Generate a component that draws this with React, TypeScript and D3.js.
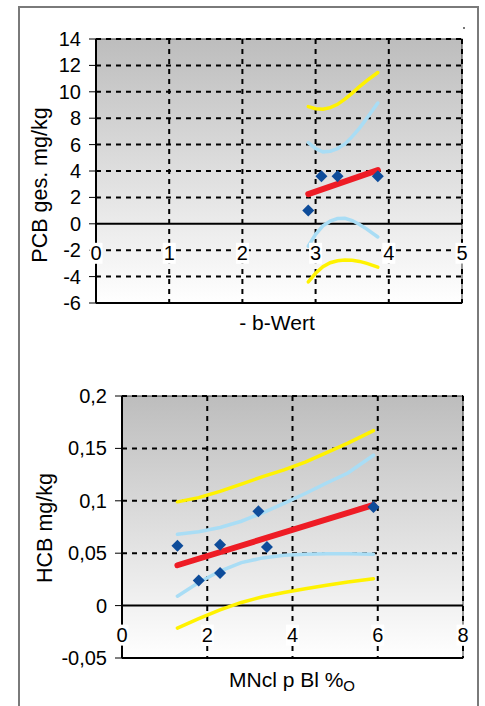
import React from "react";
import * as d3 from "d3";

// ---------- Top chart: PCB vs -b-Wert ----------
const pcbXTicks = [0, 1, 2, 3, 4, 5];
const pcbYTicks = [-6, -4, -2, 0, 2, 4, 6, 8, 10, 12, 14];
const pcbYTickLabels = ["-6", "-4", "-2", "0", "2", "4", "6", "8", "10", "12", "14"];
const pcbPointsX = [2.9, 3.08, 3.3, 3.85];
const pcbPointsY = [1.0, 3.6, 3.6, 3.6];
const pcbFitX = [2.9, 3.85];
const pcbFitY = [2.25, 4.07];
const pcbBandX = [2.9, 3.0, 3.1, 3.2, 3.3, 3.4, 3.5, 3.6, 3.7, 3.85];
const pcbConfUpper = [6.15, 5.7, 5.45, 5.5, 5.7, 6.05, 6.6, 7.25, 8.0, 9.15];
const pcbConfLower = [-1.7, -0.8, -0.15, 0.2, 0.4, 0.42, 0.25, -0.05, -0.4, -1.0];
const pcbPredUpper = [8.88, 8.72, 8.68, 8.8, 9.05, 9.45, 9.9, 10.4, 10.85, 11.46];
const pcbPredLower = [-4.4, -3.75, -3.25, -2.95, -2.8, -2.75, -2.77, -2.85, -3.0, -3.28];

// ---------- Bottom chart: HCB vs MNcl p Bl ----------
const hcbXTicks = [0, 2, 4, 6, 8];
const hcbYTicks = [-0.05, 0, 0.05, 0.1, 0.15, 0.2];
const hcbYTickLabels = ["-0,05", "0", "0,05", "0,1", "0,15", "0,2"];
const hcbPointsX = [1.3, 1.8, 2.3, 2.3, 3.2, 3.4, 5.9];
const hcbPointsY = [0.057, 0.024, 0.058, 0.031, 0.09, 0.056, 0.094];
const hcbFitX = [1.3, 5.9];
const hcbFitY = [0.0385, 0.096];
const hcbBandX = [1.3, 1.8, 2.3, 2.8, 3.3, 3.8, 4.3, 4.8, 5.3, 5.9];
const hcbConfUpper = [0.068, 0.0705, 0.0745, 0.0805, 0.0885, 0.0975, 0.107, 0.117, 0.1265, 0.1435];
const hcbConfLower = [0.009, 0.022, 0.033, 0.041, 0.0455, 0.048, 0.049, 0.0495, 0.0495, 0.049];
const hcbPredUpper = [0.099, 0.103, 0.109, 0.116, 0.123, 0.1295, 0.137, 0.146, 0.155, 0.167];
const hcbPredLower = [-0.0215, -0.0125, -0.004, 0.003, 0.0085, 0.0125, 0.016, 0.0195, 0.0225, 0.0257];

const FONT = "'Liberation Sans', Arial, sans-serif";
const RED = "#ee1c25";
const LBLUE = "#a9ddf5";
const YELLOW = "#fff200";
const DBLUE = "#0e4c9a";

type ChartProps = {
  id: string;
  left: number; right: number; top: number; bottom: number;
  xDomain: [number, number]; yDomain: [number, number];
  xTicks: number[]; yTicks: number[]; yTickLabels: string[];
  px: number[]; py: number[]; fx: number[]; fy: number[];
  bx: number[]; cu: number[]; cl: number[]; pu: number[]; pl: number[];
  yTitle: string; yTitleX: number; yTitleY: number;
  xTitle: React.ReactNode; xTitleX: number; xTitleY: number;
  yLabelRight: number;
};

function Chart(p: ChartProps) {
  const x = d3.scaleLinear().domain(p.xDomain).range([p.left, p.right]);
  const y = d3.scaleLinear().domain(p.yDomain).range([p.bottom, p.top]);
  const line = d3.line<[number, number]>().x(d => x(d[0])).y(d => y(d[1])).curve(d3.curveMonotoneX);
  const band = (vals: number[]) => line(p.bx.map((v, i) => [v, vals[i]] as [number, number])) || "";
  const fit = line.curve(d3.curveLinear)(p.fx.map((v, i) => [v, p.fy[i]] as [number, number])) || "";
  const gid = p.id + "grad";
  const y0 = y(0);
  return (
    <g>
      <defs>
        <linearGradient id={gid} x1="0" y1="0" x2="0" y2="1">
          <stop offset="0" stopColor="#bdbdbd" />
          <stop offset="1" stopColor="#ffffff" />
        </linearGradient>
      </defs>
      <rect x={p.left} y={p.top} width={p.right - p.left} height={p.bottom - p.top} fill={`url(#${gid})`} stroke="#333" strokeWidth={1} />
      {/* horizontal grid */}
      {p.yTicks.filter(t => t !== 0 && t !== p.yDomain[0]).map(t => (
        <line key={"h" + t} x1={p.left} x2={p.right} y1={y(t)} y2={y(t)} stroke="#000" strokeWidth={2} strokeDasharray="5,5" />
      ))}
      {/* vertical grid */}
      {p.xTicks.filter(t => t !== p.xDomain[0]).map(t => (
        <line key={"v" + t} x1={x(t)} x2={x(t)} y1={p.top} y2={p.bottom} stroke="#000" strokeWidth={2} strokeDasharray="5,5" />
      ))}
      {/* solid axes */}
      <line x1={p.left} x2={p.right} y1={y0} y2={y0} stroke="#000" strokeWidth={2} />
      <line x1={p.left} x2={p.left} y1={p.top} y2={p.bottom} stroke="#000" strokeWidth={2} />
      <line x1={p.left} x2={p.right} y1={p.bottom} y2={p.bottom} stroke="#000" strokeWidth={2} />
      {/* y ticks */}
      {p.yTicks.map((t, i) => (
        <g key={"yt" + t}>
          <line x1={p.left - 7} x2={p.left} y1={y(t)} y2={y(t)} stroke="#000" strokeWidth={1} />
          <text x={p.yLabelRight} y={y(t)} dy="0.35em" textAnchor="end" fontSize={20} fontFamily={FONT} fill="#000">{p.yTickLabels[i]}</text>
        </g>
      ))}
      {/* curves */}
      <path d={band(p.pu)} fill="none" stroke={YELLOW} strokeWidth={3.5} strokeLinecap="round" />
      <path d={band(p.pl)} fill="none" stroke={YELLOW} strokeWidth={3.5} strokeLinecap="round" />
      <path d={band(p.cu)} fill="none" stroke={LBLUE} strokeWidth={3.5} strokeLinecap="round" />
      <path d={band(p.cl)} fill="none" stroke={LBLUE} strokeWidth={3.5} strokeLinecap="round" />
      <path d={fit} fill="none" stroke={RED} strokeWidth={6} strokeLinecap="round" />
      {p.px.map((v, i) => {
        const cx = x(v), cy = y(p.py[i]), r = 6;
        return <path key={"pt" + i} d={`M${cx},${cy - r}L${cx + r},${cy}L${cx},${cy + r}L${cx - r},${cy}Z`} fill={DBLUE} />;
      })}
      {/* x tick labels with white boxes */}
      {p.xTicks.map(t => (
        <g key={"xt" + t}>
          <rect x={x(t) - 6.5} y={y0 + 19} width={13} height={21} fill="#fff" />
          <text x={x(t)} y={y0 + 29} dy="0.35em" textAnchor="middle" fontSize={20} fontFamily={FONT} fill="#000">{String(t)}</text>
        </g>
      ))}
      <text transform={`translate(${p.yTitleX},${p.yTitleY}) rotate(-90)`} textAnchor="middle" dy="0.35em" fontSize={21.5} fontFamily={FONT} fill="#000">{p.yTitle}</text>
      <text x={p.xTitleX} y={p.xTitleY} textAnchor="middle" fontSize={21} fontFamily={FONT} fill="#000">{p.xTitle}</text>
    </g>
  );
}

export default function App() {
  return (
    <svg width={485} height={706} style={{ position: "absolute", left: 0, top: 0, background: "#fff" }}>
      <rect x={0} y={0} width={485} height={706} fill="#fff" />
      <rect x={19} y={7} width={459} height={720} fill="none" stroke="#7a7a7a" strokeWidth={2} />
      <rect x={463} y={27} width={2} height={2} fill="#777" />
      <Chart
        id="pcb" left={96} right={462} top={39} bottom={303}
        xDomain={[0, 5]} yDomain={[-6, 14]}
        xTicks={pcbXTicks} yTicks={pcbYTicks} yTickLabels={pcbYTickLabels}
        px={pcbPointsX} py={pcbPointsY} fx={pcbFitX} fy={pcbFitY}
        bx={pcbBandX} cu={pcbConfUpper} cl={pcbConfLower} pu={pcbPredUpper} pl={pcbPredLower}
        yTitle="PCB ges. mg/kg" yTitleX={39} yTitleY={185}
        xTitle="- b-Wert" xTitleX={277} xTitleY={330}
        yLabelRight={81}
      />
      <Chart
        id="hcb" left={122} right={463} top={396} bottom={658}
        xDomain={[0, 8]} yDomain={[-0.05, 0.2]}
        xTicks={hcbXTicks} yTicks={hcbYTicks} yTickLabels={hcbYTickLabels}
        px={hcbPointsX} py={hcbPointsY} fx={hcbFitX} fy={hcbFitY}
        bx={hcbBandX} cu={hcbConfUpper} cl={hcbConfLower} pu={hcbPredUpper} pl={hcbPredLower}
        yTitle="HCB mg/kg" yTitleX={44} yTitleY={528}
        xTitle={<>MNcl p Bl %<tspan fontSize={15} dy={4}>O</tspan></>} xTitleX={292} xTitleY={687}
        yLabelRight={107}
      />
    </svg>
  );
}
